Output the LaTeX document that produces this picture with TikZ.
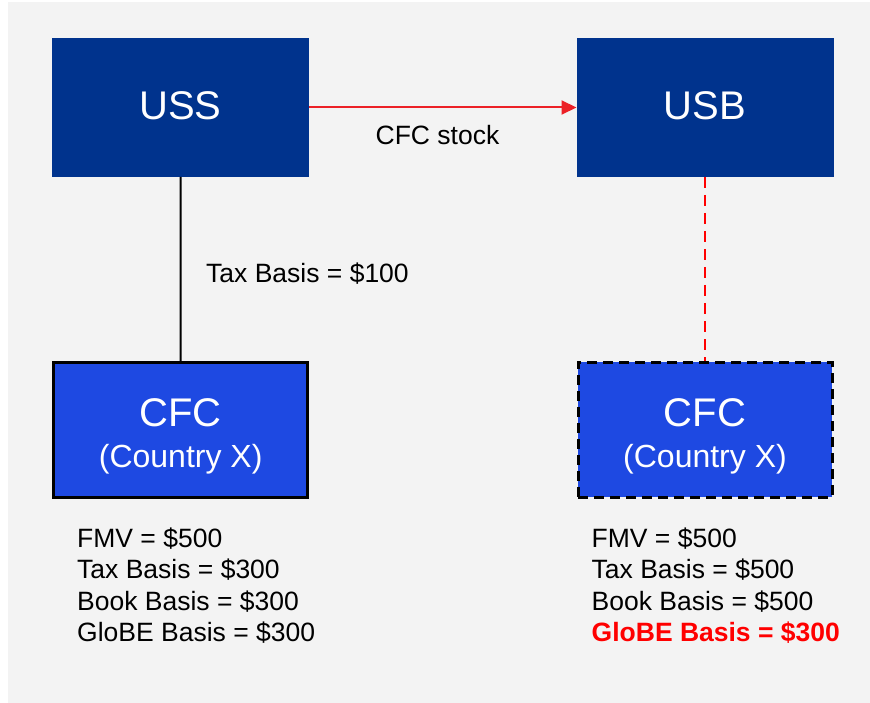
\documentclass[tikz,border=0pt]{standalone}
\usepackage{fontspec}
\setmainfont{Liberation Sans}
\usetikzlibrary{arrows.meta}
\definecolor{navy}{RGB}{0,51,141}
\definecolor{cobalt}{RGB}{30,73,226}
\definecolor{panel}{RGB}{243,243,243}
\definecolor{linkred}{RGB}{236,32,38}
\definecolor{hotred}{RGB}{255,0,0}
\begin{document}
\begin{tikzpicture}[x=1pt,y=-1pt,
  parent/.style={rectangle,fill=navy,minimum width=257pt,minimum height=139pt,inner sep=0pt,outer sep=0pt},
  sub/.style={rectangle,fill=cobalt,draw=black,line width=2.5pt,minimum width=254pt,minimum height=135pt,inner sep=0pt,outer sep=1.25pt},
  subdashed/.style={sub,line width=3pt,dash pattern=on 10pt off 6pt},
  bigtxt/.style={anchor=base,inner sep=0pt,text=white,font=\fontsize{40}{48}\selectfont},
  midtxt/.style={anchor=base,inner sep=0pt,text=white,font=\fontsize{32}{38}\selectfont},
  note/.style={anchor=base west,inner sep=0pt,text=black,font=\fontsize{26.5}{31}\selectfont},
  alert/.style={note,text=hotred,font=\fontsize{26.5}{31}\selectfont\bfseries}
]
\useasboundingbox (0,0) rectangle (870,703);
\fill[panel] (8,2) rectangle (870,703);

% entities
\node[parent] (uss) at (180.5,107.5) {};
\node[parent] (usb) at (705,107.5) {};
\node[sub] (cfcL) at (180.7,429.8) {};
\node[subdashed] (cfcR) at (705,429.8) {};

% box captions
\node[bigtxt] (ussT) at (180.5,120) {USS};
\node[bigtxt] (usbT) at (705,120) {USB};
\node[bigtxt] (cfcLT) at (180.7,426) {CFC};
\node[midtxt] (cfcLS) at (180.7,467) {(Country X)};
\node[bigtxt] (cfcRT) at (705,426) {CFC};
\node[midtxt] (cfcRS) at (705,467) {(Country X)};

% connectors
\draw[linkred,line width=2pt,-{Triangle[length=15pt,width=14pt]}] (uss.east) -- (usb.west);
\node[anchor=base,inner sep=0pt,font=\fontsize{26.5}{31}\selectfont] (stock) at (437.5,145) {CFC stock};
\draw[black,line width=2pt] (uss.south) -- (cfcL.north);
\node[note] (basis) at (206,283) {Tax Basis = \$100};
\draw[hotred,line width=2pt,dash pattern=on 11pt off 7pt] (usb.south) -- (cfcR.north);

% left attributes
\node[note] (l1) at (77,547) {FMV = \$500};
\node[note] (l2) at (77,578.5) {Tax Basis = \$300};
\node[note] (l3) at (77,610) {Book Basis = \$300};
\node[note] (l4) at (77,641.5) {GloBE Basis = \$300};

% right attributes
\node[note] (r1) at (591.5,547) {FMV = \$500};
\node[note] (r2) at (591.5,578.5) {Tax Basis = \$500};
\node[note] (r3) at (591.5,610) {Book Basis = \$500};
\node[alert] (r4) at (591.5,641.5) {GloBE Basis = \$300};
\end{tikzpicture}
\end{document}
